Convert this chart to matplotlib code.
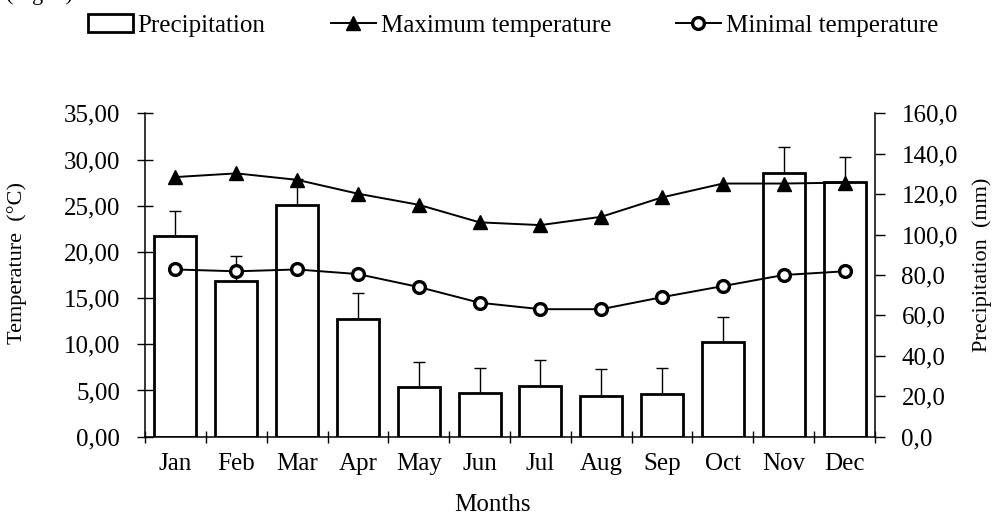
import matplotlib
matplotlib.use("Agg")
import matplotlib.pyplot as plt
from matplotlib.ticker import FuncFormatter, FixedLocator
import numpy as np

months = ["Jan", "Feb", "Mar", "Apr", "May", "Jun", "Jul", "Aug", "Sep", "Oct", "Nov", "Dec"]
precipitation = [99.3, 77.1, 114.4, 58.3, 24.5, 21.5, 25.1, 20.1, 21.3, 46.9, 130.4, 125.9]
precip_err = [12.6, 12.5, 13.2, 12.7, 12.6, 12.7, 12.7, 13.3, 12.7, 12.5, 12.7, 12.7]
max_temp = [28.1, 28.5, 27.8, 26.3, 25.1, 23.2, 22.9, 23.8, 25.9, 27.4, 27.4, 27.5]
min_temp = [18.1, 17.9, 18.1, 17.6, 16.2, 14.5, 13.8, 13.8, 15.1, 16.3, 17.5, 17.9]

plt.rcParams['font.family'] = ['Liberation Serif', 'DejaVu Serif']
FS = 18
FS_LAB = 16

fig = plt.figure(figsize=(10, 5.16), dpi=100)
ax1 = fig.add_axes([0.145, 0.1537, 0.730, 0.6267])
ax2 = ax1.twinx()
ax1.set_zorder(ax2.get_zorder() + 1)
ax1.patch.set_visible(False)

x = np.arange(len(months))

bars = ax2.bar(x, precipitation, width=0.69, color='white', edgecolor='black',
               linewidth=2.0, label='Precipitation', zorder=2)
ax2.errorbar(x, precipitation, yerr=[np.zeros(len(x)), precip_err], fmt='none',
             ecolor='black', elinewidth=1.0, capsize=4.3, capthick=1.0, zorder=1)

lmax, = ax1.plot(x, max_temp, color='black', lw=1.4, marker='^', ms=9.5,
                 mfc='black', mec='black', label='Maximum temperature')
lmin, = ax1.plot(x, min_temp, color='black', lw=1.4, marker='o', ms=8.5,
                 mfc='white', mec='black', mew=2.4, label='Minimal temperature')

ax1.set_xlim(-0.5, 11.5)
ax1.set_ylim(0, 35)
ax2.set_ylim(0, 160)

ax1.set_yticks(np.arange(0, 36, 5))
ax2.set_yticks(np.arange(0, 161, 20))
ax1.yaxis.set_major_formatter(FuncFormatter(lambda v, p: f"{v:.2f}".replace('.', ',')))
ax2.yaxis.set_major_formatter(FuncFormatter(lambda v, p: f"{v:.1f}".replace('.', ',')))

ax1.set_xticks(x)
ax1.set_xticklabels(months)
ax1.xaxis.set_minor_locator(FixedLocator(np.arange(-0.5, 12, 1)))
ax1.tick_params(axis='x', which='major', length=0, pad=12, labelsize=FS)
ax1.tick_params(axis='x', which='minor', direction='inout', length=9, width=1.0)
ax1.tick_params(axis='y', direction='inout', length=12, width=1.0, pad=12, labelsize=FS)
ax2.tick_params(axis='y', direction='out', length=7, width=1.0, pad=12, labelsize=FS)

for a in (ax1, ax2):
    a.spines['top'].set_visible(False)
    for s in ('left', 'right', 'bottom'):
        a.spines[s].set_linewidth(1.1)
        a.spines[s].set_color('black')
ax1.spines['right'].set_visible(False)
ax2.spines['left'].set_visible(False)
ax2.spines['bottom'].set_visible(False)

fig.text(0.017, 1 - 263 / 516, "Temperature  (°C)", rotation=90, ha='center', va='center', fontsize=FS_LAB)
fig.text(0.982, 1 - 265 / 516, "Precipitation  (mm)", rotation=90, ha='center', va='center', fontsize=FS_LAB)
fig.text(0.492, 1 - 505 / 516, "Months", ha='center', va='center', fontsize=FS)

fig.text(0.006, 1.0, "(Fig. 1)", ha='left', va='baseline', fontsize=FS_LAB)

fig.legend(handles=[bars, lmax, lmin], loc='center', bbox_to_anchor=(0.513, 0.951),
           ncol=3, frameon=False, fontsize=FS, handlelength=1.8, handletextpad=0.2,
           columnspacing=2.6, borderpad=0, borderaxespad=0)

fig.savefig("out.png", dpi=100)
